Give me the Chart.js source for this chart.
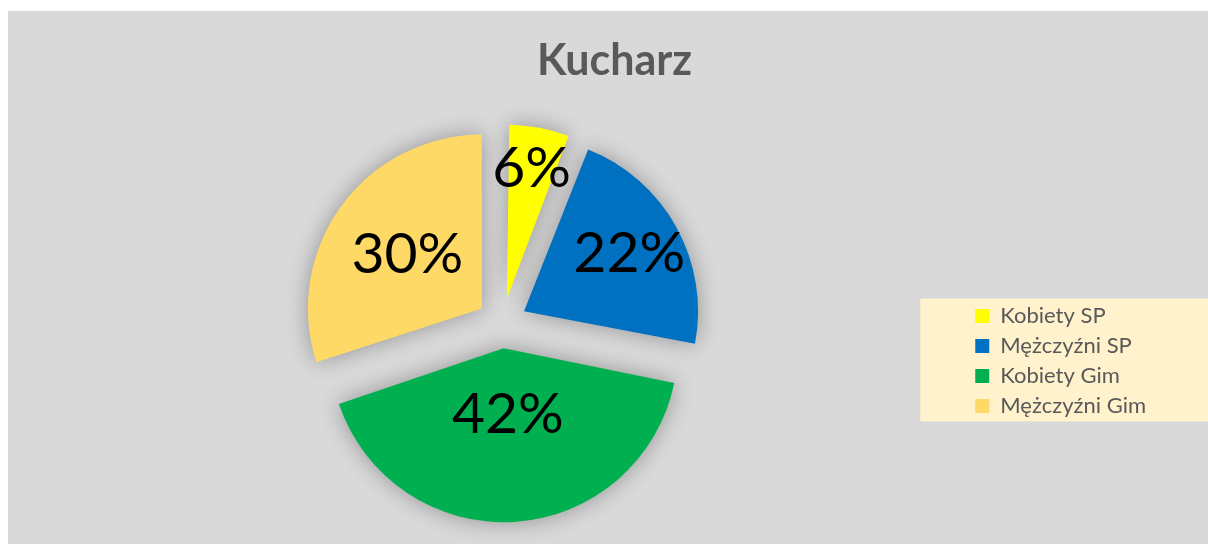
<!DOCTYPE html>
<html lang="pl">
<head>
<meta charset="utf-8">
<title>Kucharz</title>
<script src="https://cdn.jsdelivr.net/npm/chart.js@4/dist/chart.umd.min.js"></script>
<style>
  html, body { margin: 0; padding: 0; background: #ffffff; }
  #wrap {
    position: absolute;
    left: 8px;
    top: 11px;
    width: 1200px;
    height: 533px;
    background: #d9d9d9;
  }
</style>
</head>
<body>
<div id="wrap"><canvas id="chart-kucharz"></canvas></div>
<script>
// Dane (udział procentowy).
var CATEGORIES = ["Kobiety SP", "Mężczyźni SP", "Kobiety Gim", "Mężczyźni Gim"];
var VALUES = [6, 22, 42, 30];
var TITLE = "Kucharz";

(function () {
  "use strict";

  var COLORS = ["#FFFF00", "#0070C0", "#00B050", "#FFD966"];
  var TEXT_GRAY = "#595959";
  var LEGEND_BG = "#FFF2CC";
  var RADIUS = 174;
  var EXPLODE = 100; // Chart.js przesuwa łuk o offset/4 px
  // odległość etykiety od środka wycinka (ułamek promienia)
  var LABEL_POS = [0.76, 0.69, 0.38, 0.53];

  Chart.defaults.font.family = "Lato, 'Open Sans', sans-serif";
  Chart.defaults.color = TEXT_GRAY;

  // Wyrównuje promienie wszystkich wycinków (Chart.js powiększa małe łuki z offsetem).
  var evenRadius = {
    id: "evenRadius",
    afterDatasetUpdate: function (chart, args) {
      args.meta.data.forEach(function (arc) {
        var shift = EXPLODE / 4;
        var fix = 1 - Math.sin(Math.min(Math.PI, arc.circumference || 0));
        arc.outerRadius = RADIUS - shift * fix;
      });
    },
  };

  // Miękki cień pod wycinkami.
  var sliceShadow = {
    id: "sliceShadow",
    beforeDatasetDraw: function (chart) {
      var ctx = chart.ctx;
      ctx.save();
      ctx.shadowColor = "rgba(0, 0, 0, 0.32)";
      ctx.shadowBlur = 22;
    },
    afterDatasetDraw: function (chart) {
      chart.ctx.restore();
    },
  };

  // Tło legendy + lekkie przesunięcie tytułu (jak w oryginale z Excela).
  var legendBox = {
    id: "legendBox",
    afterLayout: function (chart) {
      chart.titleBlock.left += 18;
      chart.titleBlock.right += 18;
    },
    beforeDraw: function (chart) {
      var lg = chart.legend;
      if (!lg) return;
      var pad = lg.options.labels.padding;
      var ctx = chart.ctx;
      ctx.save();
      ctx.fillStyle = LEGEND_BG;
      var x0 = lg.left + pad - 55;
      var y0 = lg.bottom - 126.5;
      ctx.fillRect(x0, y0, chart.width - x0, 123);
      ctx.restore();
    },
  };

  // Etykiety procentowe wewnątrz wycinków.
  var sliceLabels = {
    id: "sliceLabels",
    afterDatasetsDraw: function (chart) {
      var ctx = chart.ctx;
      var meta = chart.getDatasetMeta(0);
      var ds = chart.data.datasets[0];
      ctx.save();
      ctx.font = "57px Lato, 'Open Sans', sans-serif";
      ctx.fillStyle = "#000000";
      ctx.textAlign = "center";
      ctx.textBaseline = "middle";
      meta.data.forEach(function (arc, i) {
        var mid = (arc.startAngle + arc.endAngle) / 2;
        var d = EXPLODE / 4 + LABEL_POS[i] * RADIUS;
        ctx.fillText(ds.data[i] + "%", arc.x + Math.cos(mid) * d, arc.y + Math.sin(mid) * d);
      });
      ctx.restore();
    },
  };

  new Chart(document.getElementById("chart-kucharz"), {
    type: "pie",
    data: {
      labels: CATEGORIES,
      datasets: [
        {
          data: VALUES,
          backgroundColor: COLORS,
          borderWidth: 0,
          offset: EXPLODE,
          hoverOffset: EXPLODE,
        },
      ],
    },
    options: {
      responsive: true,
      maintainAspectRatio: false,
      animation: false,
      radius: RADIUS,
      layout: { padding: { left: 29, right: 52, top: 0, bottom: 119 } },
      plugins: {
        title: {
          display: true,
          text: TITLE,
          color: TEXT_GRAY,
          font: { size: 43, weight: "bold" },
          padding: { top: 24, bottom: 135 },
        },
        legend: {
          display: true,
          position: "right",
          align: "end",
          labels: {
            color: TEXT_GRAY,
            font: { size: 22 },
            boxWidth: 14,
            boxHeight: 14,
            padding: 8,
          },
        },
        tooltip: { enabled: false },
      },
    },
    plugins: [evenRadius, sliceShadow, legendBox, sliceLabels],
  });
})();
</script>
</body>
</html>
